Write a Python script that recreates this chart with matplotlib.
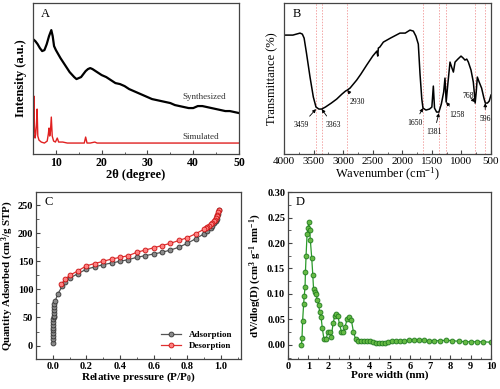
import numpy as np
import matplotlib
matplotlib.use("Agg")
from matplotlib import pyplot as plt
from matplotlib.ticker import MultipleLocator, FormatStrFormatter

plt.rcParams['font.family'] = ['Liberation Serif', 'DejaVu Serif']
plt.rcParams['mathtext.fontset'] = 'custom'
plt.rcParams['mathtext.rm'] = 'Liberation Serif'
plt.rcParams['mathtext.bf'] = 'Liberation Serif:bold'
plt.rcParams['mathtext.it'] = 'Liberation Serif:italic'

# ---------------- panel A: XRD ----------------
synth_x = [5, 5.5, 6, 6.5, 7, 7.5, 8, 8.5, 9, 9.3, 9.6, 10, 10.5, 11, 12, 13, 14, 14.5,
           15, 15.5, 16, 16.5, 17, 17.5, 18, 19, 20, 21, 22, 23, 24, 25, 26, 27, 28, 29,
           30, 31, 32, 33, 34, 35, 36, 37, 38, 39, 40, 41, 42, 43, 44, 45, 46, 47, 48, 49, 50]
synth_y = [115, 113, 110, 106, 103, 104, 110, 118, 124, 118, 108, 104, 100, 96, 89, 82, 77, 75,
           76, 77, 80, 83, 85, 86, 85, 82, 79, 77, 74, 71, 70, 68, 65, 63, 61, 59,
           57, 55, 54, 53, 52, 51, 49, 48, 47, 46, 46, 48, 48, 47, 46, 45, 44, 43, 43, 42, 41]

sim_x = [5.0, 5.1, 5.2, 5.3, 5.45, 5.6, 5.75, 5.9, 6.05, 6.3, 6.8, 7.5, 8.1, 8.35, 8.5, 8.65,
         8.8, 9.0, 9.2, 9.5, 9.9, 10.3, 10.6, 11.0, 11.5, 12.5, 14, 16.2, 16.5, 16.8, 17.5,
         18.5, 19, 20, 24, 28, 35, 42, 50]
sim_y = [12, 30, 58, 28, 16, 20, 30, 45, 18, 14, 12, 11, 13, 20, 26, 18,
         22, 37, 18, 13, 12, 16, 12, 12, 12, 11, 11, 11, 17, 11, 11,
         12, 11, 11, 11, 11, 11, 11, 11]

# ---------------- panel B: FTIR ----------------
ir_wn = [4000, 3850, 3729, 3690, 3660, 3620, 3560, 3504, 3459, 3410, 3363, 3300, 3200, 3109,
         3020, 2960, 2930, 2883, 2771, 2700, 2602, 2500, 2430, 2415, 2405, 2380, 2320, 2200,
         2039, 1950, 1870, 1813, 1770, 1729, 1700, 1670, 1650, 1600, 1540, 1500, 1475, 1455,
         1420, 1381, 1340, 1300, 1278, 1258, 1230, 1193, 1160, 1136, 1108, 1060, 1007, 970,
         940, 910, 883, 838, 799, 780, 768, 750, 731, 700, 659, 620, 596, 560, 530, 500]
ir_t = [119, 119, 121, 120, 116, 101, 77, 57, 47, 45, 45, 47, 51, 55,
        60, 63, 64, 66, 74, 80, 89, 98, 103, 98, 106, 107, 112, 116,
        121, 121, 124, 123, 118, 110, 80, 55, 46, 44, 45, 47, 68, 46,
        42, 42, 50, 62, 76, 52, 70, 92, 86, 82, 92, 95, 98, 96,
        94, 95, 92, 84, 72, 60, 51, 62, 77, 72, 66, 56, 51, 51, 53, 59]
ir_marks = [3459, 3363, 2930, 1650, 1381, 1258, 768, 596]
# (label, peak position, peak value, text position, text value)
ir_labels = [("3459", 3459, 45, 3700, 29),
             ("3363", 3363, 45, 3170, 29),
             ("2930", 2930, 64, 2760, 52),
             ("1650", 1650, 46, 1790, 31),
             ("1381", 1381, 41, 1460, 22),
             ("1258", 1258, 52, 1080, 39),
             ("768", 768, 52, 880, 58),
             ("596", 596, 51, 600, 35)]

# ---------------- panel C: N2 isotherm ----------------
ads_p = [0.004, 0.004, 0.004, 0.004, 0.004, 0.004, 0.004, 0.004, 0.004, 0.005, 0.005, 0.006,
         0.007, 0.008, 0.01, 0.015, 0.03, 0.057, 0.075, 0.1, 0.15, 0.2, 0.25, 0.3, 0.35, 0.4,
         0.45, 0.5, 0.55, 0.6, 0.65, 0.7, 0.75, 0.8, 0.85, 0.9, 0.92, 0.94, 0.95, 0.96, 0.97,
         0.975, 0.98, 0.985, 0.99]
ads_q = [5, 12, 17, 22, 27, 32, 37, 42, 47, 50, 53, 58,
         63, 68, 74, 80, 92, 106, 113, 120, 128, 136, 140, 144, 147, 150,
         153, 157, 160, 163, 166, 170, 175, 182, 190, 199, 204, 209, 213, 218, 222,
         226, 230, 235, 242]
des_p = [0.99, 0.985, 0.98, 0.975, 0.97, 0.965, 0.96, 0.95, 0.94, 0.93, 0.92, 0.91, 0.9,
         0.85, 0.8, 0.75, 0.7, 0.65, 0.6, 0.55, 0.5, 0.45, 0.4, 0.35, 0.3, 0.25, 0.2, 0.15,
         0.1, 0.075, 0.05]
des_q = [242, 237, 233, 230, 227, 224, 222, 219, 216, 213, 211, 209, 207,
         199, 192, 187, 182, 178, 174, 170, 166, 160, 157, 154, 150, 146, 142, 133,
         125, 118, 109]

# ---------------- panel D: pore size distribution ----------------
pore_w = [0.66, 0.69, 0.72, 0.77, 0.80, 0.84, 0.86, 0.89, 0.94, 0.99, 1.02, 1.07, 1.10,
          1.17, 1.22, 1.26, 1.31, 1.38, 1.44, 1.51, 1.56, 1.63, 1.69, 1.77, 1.87, 1.97,
          2.05, 2.13, 2.22, 2.30, 2.38, 2.46, 2.54, 2.63, 2.71, 2.81, 2.91, 3.00, 3.12,
          3.22, 3.33, 3.45, 3.60, 3.75, 3.90, 4.05, 4.20, 4.35, 4.50, 4.65, 4.80, 4.95,
          5.10, 5.30, 5.50, 5.70, 5.95, 6.20, 6.45, 6.70, 6.95, 7.20, 7.50, 7.80, 8.10,
          8.40, 8.70, 9.00, 9.30, 9.60, 10.0]
pore_dv = [0.000, 0.013, 0.047, 0.080, 0.096, 0.114, 0.144, 0.175, 0.218, 0.230, 0.242, 0.225, 0.206,
           0.170, 0.138, 0.109, 0.104, 0.100, 0.089, 0.078, 0.065, 0.054, 0.033, 0.011, 0.011, 0.026,
           0.026, 0.015, 0.042, 0.056, 0.061, 0.056, 0.040, 0.026, 0.026, 0.035, 0.050, 0.054, 0.049,
           0.026, 0.011, 0.008, 0.007, 0.007, 0.007, 0.008, 0.006, 0.004, 0.003, 0.003, 0.003, 0.005,
           0.007, 0.008, 0.008, 0.008, 0.009, 0.010, 0.010, 0.009, 0.008, 0.008, 0.008, 0.009, 0.008,
           0.007, 0.006, 0.006, 0.006, 0.006, 0.005]

fig = plt.figure(figsize=(5.0, 3.89), dpi=100)
frame = '#444444'


def style(ax, fs, bold):
    for s in ax.spines.values():
        s.set_color(frame)
        s.set_linewidth(0.9)
    ax.tick_params(which='both', direction='in', color=frame, labelsize=fs, pad=2)
    ax.tick_params(which='major', length=3)
    ax.tick_params(which='minor', length=1.8)
    if bold:
        for lab in ax.get_xticklabels() + ax.get_yticklabels():
            lab.set_fontweight('bold')


# A
axA = fig.add_axes([0.066, 0.604, 0.412, 0.388])
axA.plot(synth_x, synth_y, color='black', lw=1.6)
axA.plot(sim_x, sim_y, color='#e02020', lw=1.0)
axA.set_xlim(5, 50)
axA.set_ylim(0, 151)
axA.set_yticks([])
axA.xaxis.set_major_locator(MultipleLocator(10))
axA.xaxis.set_minor_locator(MultipleLocator(5))
style(axA, 8.5, True)
axA.set_xlabel('2θ (degree)', fontsize=9, fontweight='bold', labelpad=0)
axA.set_ylabel('Intensity (a.u.)', fontsize=9, fontweight='bold', labelpad=4)
axA.text(0.04, 0.93, 'A', transform=axA.transAxes, fontsize=9, va='center')
axA.text(37.7, 57, 'Synthesized', fontsize=6.5, color='#333333', va='center')
axA.text(37.7, 17, 'Simulated', fontsize=6.5, color='#333333', va='center')

# B
axB = fig.add_axes([0.568, 0.604, 0.414, 0.388])
for wn in ir_marks:
    axB.axvline(wn, color='#f3a6a6', lw=0.7, ls=(0, (1.5, 1.5)))
axB.plot(ir_wn, ir_t, color='black', lw=1.1)
for lab, px, py, tx, ty in ir_labels:
    axB.annotate(lab, xy=(px, py), xytext=(tx, ty), fontsize=5.5, ha='center', va='center',
                 arrowprops=dict(arrowstyle='-|>', lw=0.6, color='black', mutation_scale=5,
                                 shrinkA=2, shrinkB=0))
axB.set_xlim(4000, 500)
axB.set_ylim(0, 151)
axB.set_yticks([])
axB.xaxis.set_major_locator(MultipleLocator(500))
axB.xaxis.set_minor_locator(MultipleLocator(250))
style(axB, 8, False)
axB.set_xlabel('Wavenumber (cm$^{-1}$)', fontsize=9, labelpad=0)
axB.set_ylabel('Transmittance (%)', fontsize=9, labelpad=4)
axB.text(0.04, 0.93, 'B', transform=axB.transAxes, fontsize=9, va='center')

# C
axC = fig.add_axes([0.072, 0.077, 0.410, 0.429])
axC.plot(ads_p, ads_q, color='#555555', lw=0.9, marker='o', ms=3.5,
         mfc='#8a8a8a', mec='#333333', mew=0.6, label='Adsorption')
axC.plot(des_p, des_q, color='#e03030', lw=0.9, marker='o', ms=3.5,
         mfc='#ff8080', mec='#cc1010', mew=0.6, label='Desorption')
axC.set_xlim(-0.1, 1.12)
axC.set_ylim(-24, 273)
axC.set_xticks(np.arange(0, 1.01, 0.2))
axC.xaxis.set_minor_locator(MultipleLocator(0.1))
axC.yaxis.set_major_locator(MultipleLocator(50))
axC.yaxis.set_minor_locator(MultipleLocator(25))
axC.xaxis.set_major_formatter(FormatStrFormatter('%.1f'))
style(axC, 7.5, True)
axC.set_xlabel(r'Relative pressure (P/P$_{\mathbf{0}}$)', fontsize=8, fontweight='bold', labelpad=0)
axC.set_ylabel(r'Quantity Adsorbed (cm$^{\mathbf{3}}$/g STP)', fontsize=7.8, fontweight='bold', labelpad=1)
axC.text(0.04, 0.94, 'C', transform=axC.transAxes, fontsize=9, va='center')
axC.legend(loc='lower right', frameon=False, prop={'weight': 'bold', 'size': 6.5},
           handlelength=2.2, borderaxespad=0.6, labelspacing=0.3)

# D
axD = fig.add_axes([0.576, 0.077, 0.406, 0.429])
axD.plot(pore_w, pore_dv, color='#2a9a2a', lw=0.9, marker='o', ms=3.5,
         mfc='#66bb44', mec='#1f7a1f', mew=0.6)
axD.set_xlim(0, 10)
axD.set_ylim(-0.028, 0.30)
axD.xaxis.set_major_locator(MultipleLocator(1))
axD.xaxis.set_minor_locator(MultipleLocator(0.5))
axD.yaxis.set_major_locator(MultipleLocator(0.05))
axD.yaxis.set_minor_locator(MultipleLocator(0.025))
axD.yaxis.set_major_formatter(FormatStrFormatter('%.2f'))
style(axD, 7.5, True)
axD.set_xlabel('Pore width (nm)', fontsize=8, fontweight='bold', labelpad=0)
axD.set_ylabel(r'dV/dlog(D) (cm$^{\mathbf{3}}$ g$^{\mathbf{-1}}$ nm$^{\mathbf{-1}}$)',
               fontsize=7.8, fontweight='bold', labelpad=2)
axD.text(0.04, 0.94, 'D', transform=axD.transAxes, fontsize=9, va='center')

fig.savefig('out.png', dpi=100)
